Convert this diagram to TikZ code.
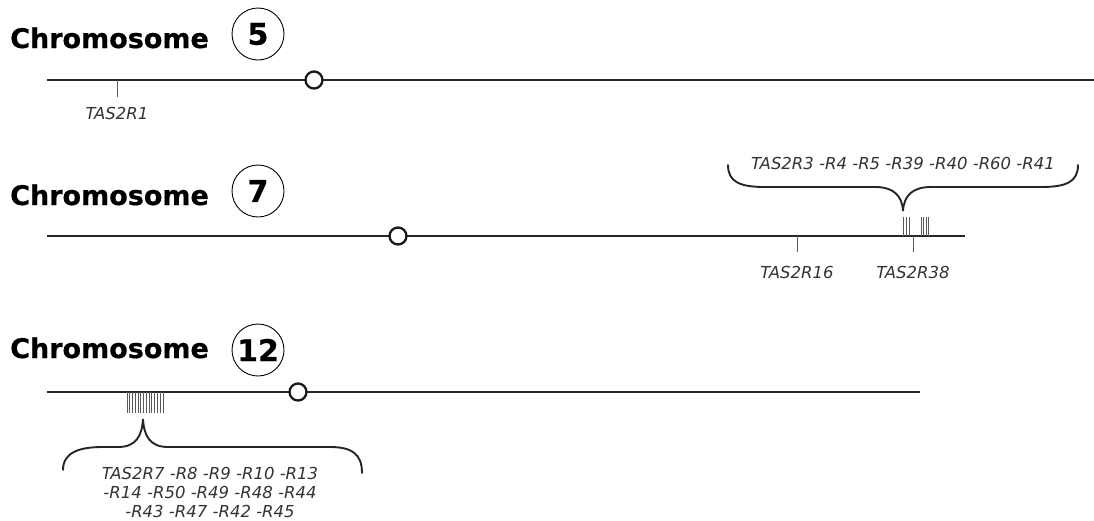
\documentclass[tikz,border=0pt]{standalone}
\usepackage{fontspec}
\setmainfont{DejaVu Sans}
\newfontfamily\headfont[FakeBold=0.6]{DejaVu Sans Bold}
\begin{document}
\begin{tikzpicture}[x=1pt,y=-1pt,
  heading/.style={font=\fontsize{27}{30}\headfont, anchor=base west, inner sep=0pt, text=black},
  chrnum/.style={circle, draw, line width=0.9pt, minimum size=52pt, inner sep=0pt, font=\fontsize{30}{32}\headfont},
  chrline/.style={line width=2.7pt, black!85},
  centro/.style={circle, draw=black!90, line width=2.3pt, fill=white, minimum size=17pt, inner sep=0pt},
  gene/.style={line width=1pt, black!65},
  genelabel/.style={font=\fontsize{16.5}{19}\selectfont\itshape, text=black!80, inner sep=0pt},
  bracestyle/.style={line width=1.9pt, black!85, line cap=round}]
\useasboundingbox (0,0) rectangle (1094,520);

% ---------- Chromosome 5 ----------
\node[heading] (h5) at (10,48) {Chromosome};
\node[chrnum] (n5) at (258,34) {5};
\coordinate (c5a) at (47,80);
\coordinate (c5b) at (1094,80);
\draw[chrline] (c5a) -- (c5b);
\node[centro] (cen5) at (314,80) {};
\coordinate (g1t) at (117,80);
\coordinate (g1b) at (117,97);
\draw[gene] (g1t) -- (g1b);
\node[genelabel] (l1) at (117,113) {TAS2R1};

% ---------- Chromosome 7 ----------
\node[heading] (h7) at (10,205) {Chromosome};
\node[chrnum] (n7) at (258,191) {7};
\coordinate (c7a) at (47,236);
\coordinate (c7b) at (965,236);
\draw[chrline] (c7a) -- (c7b);
\node[centro] (cen7) at (398,236) {};
\foreach \x in {903,906,909,921,923.5,926,928.5}{
  \draw[gene] (\x,217) -- (\x,236);
}
\coordinate (g16t) at (797,236);
\coordinate (g16b) at (797,252);
\draw[gene] (g16t) -- (g16b);
\coordinate (g38t) at (913,236);
\coordinate (g38b) at (913,252);
\draw[gene] (g38t) -- (g38b);
\node[genelabel] (l16) at (797,272) {TAS2R16};
\node[genelabel] (l38) at (913,272) {TAS2R38};
\draw[bracestyle] (728,165) .. controls (728,182) and (740,187) .. (765,187) -- (875,187)
  .. controls (893,187) and (902,195) .. (903,211)
  .. controls (904,195) and (913,187) .. (931,187) -- (1041,187)
  .. controls (1066,187) and (1078,182) .. (1078,165);
\node[genelabel] (l7grp) at (903,163) {TAS2R3 -R4 -R5 -R39 -R40 -R60 -R41};

% ---------- Chromosome 12 ----------
\node[heading] (h12) at (10,358) {Chromosome};
\node[chrnum] (n12) at (258,350) {12};
\coordinate (c12a) at (47,392);
\coordinate (c12b) at (920,392);
\draw[chrline] (c12a) -- (c12b);
\node[centro] (cen12) at (298,392) {};
\foreach \i in {0,...,13}{
  \draw[gene] ({127+\i*2.77},392) -- ({127+\i*2.77},413);
}
\draw[bracestyle] (63,470) .. controls (63,452) and (80,447) .. (103,447) -- (118,447)
  .. controls (136,447) and (142,436) .. (143,419)
  .. controls (144,436) and (150,447) .. (168,447) -- (330,447)
  .. controls (352,447) and (362,454) .. (362,473);
\node[genelabel, align=center] (l12grp) at (210,492) {TAS2R7 -R8 -R9 -R10 -R13\\-R14 -R50 -R49 -R48 -R44\\-R43 -R47 -R42 -R45};
\end{tikzpicture}
\end{document}
